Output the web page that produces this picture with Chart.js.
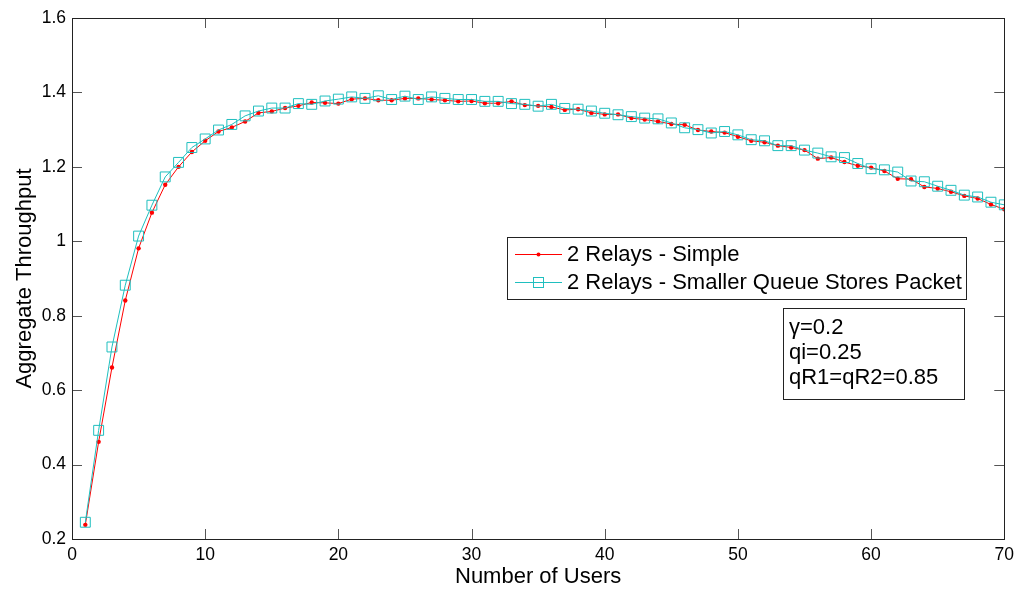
<!DOCTYPE html>
<html>
<head>
<meta charset="utf-8">
<script src="https://cdn.jsdelivr.net/npm/chart.js@4.4.1/dist/chart.umd.min.js"></script>
<style>
  html, body { margin: 0; padding: 0; background: #fff; }
  #wrap { width: 1020px; height: 590px; }
</style>
</head>
<body>
<div id="wrap"><canvas id="chart" width="1020" height="590"></canvas></div>
<script>
const users = Array.from({ length: 70 }, (_, i) => i + 1);

const simple = [
    0.238, 0.461, 0.661, 0.841, 0.981, 1.077, 1.152, 1.200, 1.240, 1.270,
    1.295, 1.306, 1.322, 1.345, 1.349, 1.358, 1.364, 1.373, 1.372, 1.370,
    1.382, 1.384, 1.379, 1.379, 1.384, 1.384, 1.381, 1.379, 1.376, 1.377,
    1.371, 1.371, 1.376, 1.366, 1.364, 1.361, 1.353, 1.355, 1.345, 1.341,
    1.341, 1.331, 1.327, 1.322, 1.315, 1.313, 1.299, 1.295, 1.292, 1.281,
    1.270, 1.266, 1.257, 1.252, 1.245, 1.222, 1.225, 1.213, 1.203, 1.198,
    1.189, 1.168, 1.167, 1.146, 1.142, 1.133, 1.122, 1.115, 1.099, 1.086
];

const smallerQueue = [
    0.245, 0.492, 0.716, 0.882, 1.014, 1.097, 1.173, 1.212, 1.252, 1.275,
    1.299, 1.314, 1.337, 1.350, 1.358, 1.358, 1.370, 1.368, 1.377, 1.382,
    1.388, 1.384, 1.391, 1.381, 1.390, 1.381, 1.388, 1.384, 1.381, 1.381,
    1.376, 1.376, 1.370, 1.368, 1.363, 1.368, 1.357, 1.355, 1.350, 1.344,
    1.340, 1.335, 1.331, 1.329, 1.318, 1.305, 1.300, 1.291, 1.295, 1.286,
    1.273, 1.270, 1.257, 1.257, 1.245, 1.237, 1.227, 1.225, 1.209, 1.195,
    1.192, 1.186, 1.162, 1.160, 1.148, 1.137, 1.124, 1.119, 1.105, 1.098
];

const xTicks = [0, 10, 20, 30, 40, 50, 60, 70];
const yTicks = [0.2, 0.4, 0.6, 0.8, 1.0, 1.2, 1.4, 1.6];
const seriesLabels = ["2 Relays - Simple", "2 Relays - Smaller Queue Stores Packet"];
const noteLines = ["\u03b3=0.2", "qi=0.25", "qR1=qR2=0.85"];

const FONT = "'Liberation Sans', Arial, sans-serif";
const RED = "#ff0000";
const CYAN = "#1fbfbf";

// matlab style box with inward ticks on all four sides
const matlabFrame = {
    id: "matlabFrame",
    afterDatasetsDraw(chart) {
        const { ctx, chartArea: a, scales } = chart;
        ctx.save();
        ctx.strokeStyle = "#555";
        ctx.lineWidth = 1;
        ctx.beginPath();
        xTicks.forEach(v => {
            const px = Math.round(scales.x.getPixelForValue(v)) + 0.5;
            ctx.moveTo(px, a.bottom); ctx.lineTo(px, a.bottom - 10);
            ctx.moveTo(px, a.top); ctx.lineTo(px, a.top + 10);
        });
        yTicks.forEach(v => {
            const py = Math.round(scales.y.getPixelForValue(v)) + 0.5;
            ctx.moveTo(a.left, py); ctx.lineTo(a.left + 10, py);
            ctx.moveTo(a.right, py); ctx.lineTo(a.right - 10, py);
        });
        ctx.stroke();
        ctx.strokeStyle = "#222";
        ctx.strokeRect(Math.round(a.left) + 0.5, Math.round(a.top) + 0.5, Math.round(a.right - a.left), Math.round(a.bottom - a.top));
        ctx.restore();
    }
};

// legend and parameter box drawn inside the axes, like the matlab figure
const insideBoxes = {
    id: "insideBoxes",
    afterDraw(chart) {
        const { ctx } = chart;
        ctx.save();
        ctx.fillStyle = "#fff";
        ctx.strokeStyle = "#222";
        ctx.lineWidth = 1;
        ctx.fillRect(507, 237, 459, 62);
        ctx.strokeRect(507.5, 237.5, 459, 62);

        ctx.font = "22px " + FONT;
        ctx.textBaseline = "middle";
        ctx.textAlign = "left";
        const rows = [254, 282];
        chart.data.datasets.forEach((ds, i) => {
            const y = rows[i] + 0.5;
            ctx.strokeStyle = ds.borderColor;
            ctx.lineWidth = 1;
            ctx.beginPath(); ctx.moveTo(515, y); ctx.lineTo(562, y); ctx.stroke();
            if (ds.pointStyle === "rect") {
                ctx.strokeRect(533.5, y - 5, 10, 10);
            } else {
                ctx.fillStyle = ds.borderColor;
                ctx.beginPath(); ctx.arc(538.5, y, 2, 0, Math.PI * 2); ctx.fill();
            }
            ctx.fillStyle = "#000";
            ctx.fillText(ds.label, 567, rows[i] + 1);
        });

        ctx.fillStyle = "#fff";
        ctx.fillRect(783, 308, 181, 91);
        ctx.strokeStyle = "#222";
        ctx.strokeRect(783.5, 308.5, 181, 91);
        ctx.fillStyle = "#000";
        noteLines.forEach((t, i) => ctx.fillText(t, 789, 328 + i * 25));
        ctx.restore();
    }
};

new Chart(document.getElementById("chart"), {
    type: "line",
    data: {
        datasets: [
            {
                label: seriesLabels[0],
                data: users.map((u, i) => ({ x: u, y: simple[i] })),
                borderColor: RED, backgroundColor: RED, borderWidth: 1,
                pointStyle: "circle", pointRadius: 2.2, pointBorderWidth: 0,
                tension: 0, order: 2
            },
            {
                label: seriesLabels[1],
                data: users.map((u, i) => ({ x: u, y: smallerQueue[i] })),
                borderColor: CYAN, backgroundColor: "rgba(0,0,0,0)", borderWidth: 1,
                pointStyle: "rect", pointRadius: 7, pointBorderWidth: 1,
                pointBorderColor: CYAN, pointBackgroundColor: "rgba(0,0,0,0)",
                tension: 0, order: 1
            }
        ]
    },
    options: {
        responsive: false,
        animation: false,
        layout: { padding: { top: 18, right: 15, left: 0, bottom: 0 } },
        plugins: { legend: { display: false }, tooltip: { enabled: false } },
        scales: {
            x: {
                type: "linear", min: 0, max: 70,
                afterBuildTicks: s => { s.ticks = xTicks.map(v => ({ value: v })); },
                afterFit: s => { s.height = 51; },
                grid: { display: false, drawTicks: false }, border: { display: false },
                ticks: { color: "#000", padding: 6, maxRotation: 0, font: { size: 17.5, family: FONT } },
                title: { display: true, text: "Number of Users", color: "#000", padding: { top: 0, bottom: 0 }, font: { size: 22, family: FONT } }
            },
            y: {
                min: 0.2, max: 1.6,
                afterBuildTicks: s => { s.ticks = yTicks.map(v => ({ value: v })); },
                afterFit: s => { s.width = 72; },
                grid: { display: false, drawTicks: false }, border: { display: false },
                ticks: { color: "#000", padding: 6, font: { size: 17.5, family: FONT }, callback: v => String(+v.toFixed(1)) },
                title: { display: true, text: "Aggregate Throughput", color: "#000", padding: { top: 12, bottom: 0 }, font: { size: 22, family: FONT } }
            }
        }
    },
    plugins: [matlabFrame, insideBoxes]
});
</script>
</body>
</html>
